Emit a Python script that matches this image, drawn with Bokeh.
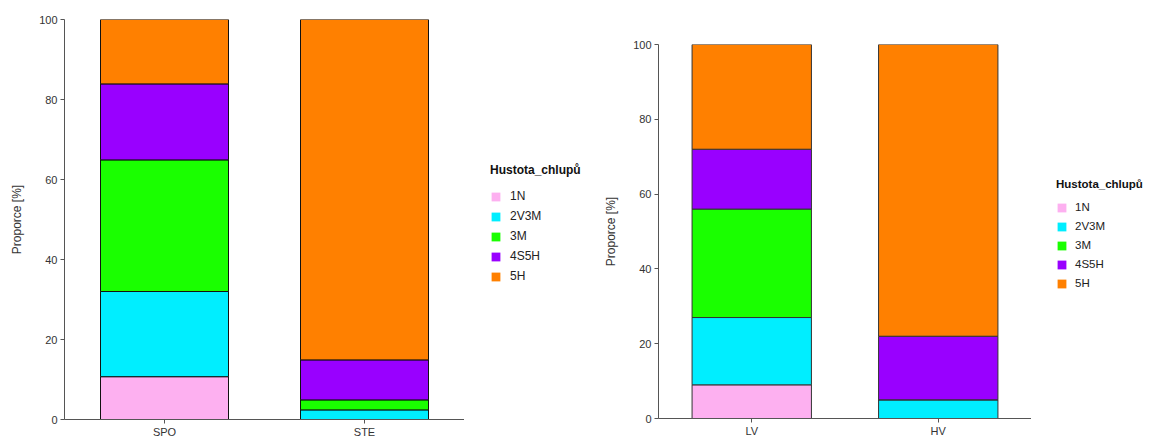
from bokeh.plotting import figure
from bokeh.models import ColumnDataSource, Legend, LegendItem, Range1d, FactorRange, FixedTicker, Spacer
from bokeh.layouts import row, column
from bokeh.embed import file_html
from bokeh.resources import INLINE

classes = ["1N", "2V3M", "3M", "4S5H", "5H"]
colors = ["#FDB0F0", "#00EEFF", "#1AFF00", "#9900FF", "#FF8000"]

left_cats = ["SPO", "STE"]
left_1N = [10.7, 0.0]
left_2V3M = [21.3, 2.4]
left_3M = [32.9, 2.5]
left_4S5H = [19.0, 10.0]
left_5H = [16.1, 85.1]

right_cats = ["LV", "HV"]
right_1N = [9.0, 0.0]
right_2V3M = [18.0, 5.0]
right_3M = [29.0, 0.0]
right_4S5H = [16.0, 17.0]
right_5H = [28.0, 78.0]

y_ticks = [0, 20, 40, 60, 80, 100]
y_label = "Proporce [%]"
legend_title = "Hustota_chlupů"
FONT = "Liberation Sans"
H = 440


def build(cats, series, width, height, bl, bt, bb, bar_line):
    src = ColumnDataSource(dict(cat=cats, **{k: v for k, v in zip(classes, series)}))
    p = figure(x_range=FactorRange(*cats), y_range=Range1d(0, 100), width=width, height=height,
               output_backend="svg", toolbar_location=None,
               min_border_left=bl, min_border_top=bt, min_border_right=0, min_border_bottom=bb)
    p.outline_line_color = None
    p.xgrid.grid_line_color = None
    p.ygrid.grid_line_color = None
    p.vbar_stack(classes, x="cat", width=0.64, color=colors, line_color=bar_line, line_width=1,
                 source=src)
    for ax in (p.xaxis[0], p.yaxis[0]):
        ax.axis_line_color = "#555555"
        ax.major_tick_line_color = "#555555"
        ax.major_tick_out = 4
        ax.major_tick_in = 0
        ax.minor_tick_line_color = None
        ax.major_label_text_font = FONT
        ax.major_label_text_font_size = "11px"
        ax.major_label_text_color = "#333333"
    p.xaxis.major_label_standoff = 2
    p.yaxis.major_label_standoff = 3
    p.yaxis.ticker = FixedTicker(ticks=y_ticks)
    p.yaxis.axis_label = y_label
    p.yaxis.axis_label_text_font = FONT
    p.yaxis.axis_label_text_font_style = "normal"
    p.yaxis.axis_label_text_font_size = "12px"
    p.yaxis.axis_label_text_color = "#333333"
    p.yaxis.axis_label_standoff = 12
    return p


def legend_fig(width, loc, title_size, label_size, spacing, title_standoff, standoff):
    f = figure(width=width, height=H, x_range=Range1d(0, 1), y_range=Range1d(0, 1),
               output_backend="svg", toolbar_location=None, min_border=0)
    f.axis.visible = False
    f.grid.visible = False
    f.outline_line_color = None
    items = []
    for c, col in zip(classes, colors):
        # zero-height key swatch: only its legend glyph is visible
        src = ColumnDataSource(dict(x=[0.5], top=[0.0]))
        r = f.vbar(x="x", top="top", width=0.0, fill_color=col, line_color=None, source=src)
        items.append(LegendItem(label=c, renderers=[r]))
    leg = Legend(items=items, location=loc, title=legend_title,
                 title_text_font=FONT, title_text_font_style="bold", title_text_font_size=title_size,
                 title_text_color="#111111", title_standoff=title_standoff,
                 label_text_font=FONT, label_text_font_size=label_size, label_text_color="#222222",
                 glyph_width=11, glyph_height=11, label_height=14, label_standoff=standoff,
                 spacing=spacing, padding=0, margin=0,
                 border_line_color=None, background_fill_alpha=0)
    f.add_layout(leg)
    return f


p1 = build(left_cats, [left_1N, left_2V3M, left_3M, left_4S5H, left_5H],
           464, H, 64, 19, 21, "#111111")
l1 = legend_fig(136, (26, 136), "12px", "12px", 6, 12, 9)
p2 = build(right_cats, [right_1N, right_2V3M, right_3M, right_4S5H, right_5H],
           431, H - 25, 58, 19, 22, "#333333")
l2 = legend_fig(124, (25, 129), "11.5px", "11.5px", 5, 10, 8)

layout = row(p1, l1, column(Spacer(width=431, height=25), p2), l2)
open("out.html", "w").write(file_html(layout, INLINE))
